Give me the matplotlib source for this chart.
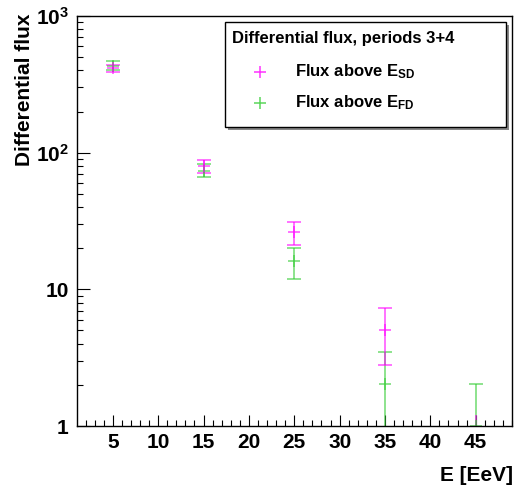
import matplotlib
matplotlib.use("Agg")
import matplotlib.pyplot as plt
from matplotlib.ticker import FixedLocator, MultipleLocator, FuncFormatter, LogLocator, NullFormatter
from matplotlib.patches import Rectangle
from matplotlib.lines import Line2D

plt.rcParams['font.family'] = ['Liberation Sans', 'DejaVu Sans']
plt.rcParams['font.weight'] = 'bold'
plt.rcParams['mathtext.fontset'] = 'custom'
plt.rcParams['mathtext.rm'] = 'Liberation Sans:bold'
plt.rcParams['mathtext.bf'] = 'Liberation Sans:bold'
plt.rcParams['mathtext.it'] = 'Liberation Sans:bold'
plt.rcParams['mathtext.default'] = 'bf'

# Energy bins [EeV]
energy = [5, 15, 25, 35, 45]

# Flux above E_SD
flux_sd = [415, 80, 26.2, 5.05, 0.5]
flux_sd_lo = [27, 8.5, 5.0, 2.25, 0.5]
flux_sd_hi = [25, 9.0, 5.0, 2.2, 0.7]

# Flux above E_FD
flux_fd = [430, 74, 16.1, 2.03, 1.0]
flux_fd_lo = [27, 8.0, 4.1, 1.4, 0.999]
flux_fd_hi = [40, 9.0, 4.0, 1.42, 1.03]

title_text = "Differential flux, periods 3+4"
label_sd = r"Flux above E$_{\mathbf{SD}}$"
label_fd = r"Flux above E$_{\mathbf{FD}}$"

W, H = 516, 490
fig = plt.figure(figsize=(W / 100, H / 100), dpi=100)
ax = fig.add_axes([77 / W, 1 - 426 / H, (512 - 77) / W, (426 - 16) / H])

col_sd = '#ff00ff'
col_fd = '#33cc33'
ymin = 1.0

style = dict(fmt='+', alpha=0.7, markersize=8, elinewidth=1.1, capthick=1.1, mew=1.1)


def draw_series(x, y, lo, hi, color):
    # points whose centre lies inside the frame get capped bars,
    # those below the axis minimum only show the visible part of the bar
    inside = [i for i, v in enumerate(y) if v >= ymin]
    below = [i for i, v in enumerate(y) if v < ymin]
    if inside:
        ax.errorbar([x[i] for i in inside], [y[i] for i in inside],
                    yerr=[[lo[i] for i in inside], [hi[i] for i in inside]],
                    color=color, capsize=5, **style)
    if below:
        ax.errorbar([x[i] for i in below], [y[i] for i in below],
                    yerr=[[lo[i] for i in below], [hi[i] for i in below]],
                    color=color, capsize=0, **style)


draw_series(energy, flux_fd, flux_fd_lo, flux_fd_hi, col_fd)
draw_series(energy, flux_sd, flux_sd_lo, flux_sd_hi, col_sd)

ax.set_yscale('log')
ax.set_ylim(ymin, 1000)
ax.set_xlim(1.05, 49.0)

ax.xaxis.set_major_locator(FixedLocator([5, 10, 15, 20, 25, 30, 35, 40, 45]))
ax.xaxis.set_minor_locator(MultipleLocator(1))
ax.yaxis.set_major_locator(FixedLocator([1, 10, 100, 1000]))
ax.yaxis.set_minor_locator(LogLocator(base=10, subs=range(2, 10)))
ax.yaxis.set_minor_formatter(NullFormatter())


def ylab(v, pos):
    if v < 5:
        return '1'
    if v < 50:
        return '10'
    if v < 500:
        return r'$\mathbf{10^{2}}$'
    return r'$\mathbf{10^{3}}$'


ax.yaxis.set_major_formatter(FuncFormatter(ylab))

ax.tick_params(axis='both', which='both', direction='in', top=False, right=False,
               labelsize=15, width=0.8, colors='black')
ax.tick_params(axis='y', which='major', length=9, pad=6)
ax.tick_params(axis='y', which='minor', length=4.5)
ax.tick_params(axis='x', which='major', length=8, pad=5)
ax.tick_params(axis='x', which='minor', length=4)
for lab in ax.get_xticklabels() + ax.get_yticklabels():
    lab.set_fontweight('bold')
for s in ax.spines.values():
    s.set_linewidth(1.0)

fig.text(25 / W, 1 - 14 / H, "Differential flux", rotation=90, ha='center', va='top',
         fontsize=15, fontweight='bold')
fig.text(513 / W, 1 - 475 / H, "E [EeV]", ha='right', va='center',
         fontsize=15, fontweight='bold')

# Legend box with drop shadow
lx0, lx1, ly0, ly1 = 225, 506, 22, 127
fig.add_artist(Rectangle(((lx0 + 3) / W, 1 - (ly1 + 3) / H), (lx1 - lx0) / W, (ly1 - ly0) / H,
                         transform=fig.transFigure, facecolor='#888888', edgecolor='none', zorder=5))
fig.add_artist(Rectangle((lx0 / W, 1 - ly1 / H), (lx1 - lx0) / W, (ly1 - ly0) / H,
                         transform=fig.transFigure, facecolor='white', edgecolor='black',
                         linewidth=1.0, zorder=6))
fig.text(232 / W, 1 - 39 / H, title_text, ha='left', va='center', fontsize=12,
         fontweight='bold', zorder=7)
for yy, col, lab in [(72, col_sd, label_sd), (103, col_fd, label_fd)]:
    fig.add_artist(Line2D([260 / W], [1 - yy / H], marker='+', color=col, markersize=8,
                          mew=1.1, alpha=0.8, linestyle='none', transform=fig.transFigure, zorder=7))
    fig.text(295 / W, 1 - yy / H, lab, ha='left', va='center', fontsize=12,
             fontweight='bold', zorder=7)

fig.savefig('out.png', dpi=100)
